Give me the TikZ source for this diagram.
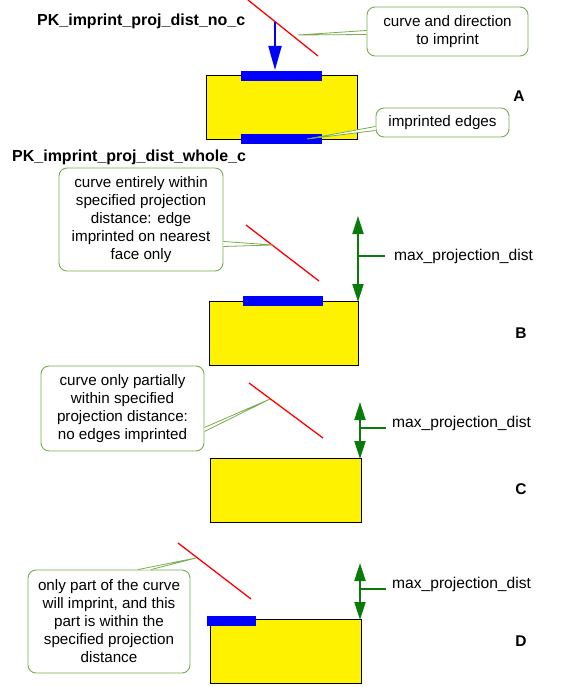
\documentclass[tikz,border=0pt]{standalone}
\usepackage{fontspec}
\setmainfont{Liberation Sans}
\usetikzlibrary{arrows.meta}
\definecolor{cgreen}{HTML}{77AD4B}
\definecolor{agreen}{HTML}{0A7A0A}
\begin{document}
\begin{tikzpicture}[x=1pt,y=-1pt,
  callout/.style={draw=cgreen,fill=white,rounded corners=8pt,line width=0.9pt,inner sep=0pt,align=center,font=\fontsize{15.2}{18}\selectfont},
  ptrfill/.style={fill=white},
  ptrline/.style={draw=cgreen,line width=0.8pt},
  yrect/.style={draw=black,fill=yellow,line width=0.8pt,inner sep=0pt,minimum width=151pt,minimum height=64pt},
  bar/.style={fill=blue,inner sep=0pt,minimum height=10pt},
  curve/.style={draw=red,line width=1.3pt},
  garrow/.style={draw=agreen,line width=2pt,{Triangle[length=18pt,width=11pt]}-{Triangle[length=18pt,width=11pt]}},
  gtick/.style={draw=agreen,line width=2pt},
  title/.style={font=\fontsize{16}{18}\selectfont\bfseries,anchor=west,inner sep=0pt},
  letter/.style={font=\fontsize{15.5}{18}\selectfont\bfseries,inner sep=0pt},
  maxlbl/.style={font=\fontsize{15.6}{18}\selectfont,anchor=west,inner sep=0pt}]
\useasboundingbox[fill=white] (0,0) rectangle (560,687);

% ---------------- A ----------------
\node[title] (tA) at (37,21) {PK\_imprint\_proj\_dist\_no\_c};
\node[yrect] (rA) at (281.5,107) {};
\node[bar,minimum width=81pt] (bA1) at (281.5,76) {};
\node[bar,minimum width=81pt] (bA2) at (281.5,139) {};
\coordinate (cA1) at (248,0);
\coordinate (cA2) at (318,56);
\draw[curve] (cA1) -- (cA2);
\coordinate (arA1) at (275,22);
\coordinate (arA2) at (275,70);
\draw[draw=blue,line width=2pt,-{Triangle[length=24pt,width=13pt]}] (arA1) -- (arA2);
\node[letter] (lA) at (519,96) {A};

\node[callout,minimum width=161pt,minimum height=49pt] (kA1) at (447.5,31.5) {curve and direction\\to imprint};
\coordinate (pA1) at (298,35);
\path[ptrfill] ([yshift=1pt]kA1.west) -- (pA1) -- ([yshift=-3pt]kA1.west) -- cycle;
\draw[ptrline] ([yshift=1pt]kA1.west) -- (pA1) -- ([yshift=-3pt]kA1.west);

\node[callout,minimum width=133pt,minimum height=29pt] (kA2) at (442.5,122.5) {imprinted edges};
\coordinate (pA2) at (307,139);
\path[ptrfill] ([yshift=-4pt]kA2.west) -- (pA2) -- ([yshift=-8pt]kA2.west) -- cycle;
\draw[ptrline] ([yshift=-4pt]kA2.west) -- (pA2) -- ([yshift=-8pt]kA2.west);

% ---------------- B ----------------
\node[title] (tB) at (12,157) {PK\_imprint\_proj\_dist\_whole\_c};
\node[yrect,minimum width=149pt] (rB) at (283.5,333.5) {};
\node[bar,minimum width=80pt] (bB) at (283,301) {};
\coordinate (cB1) at (246,225);
\coordinate (cB2) at (319,281);
\draw[curve] (cB1) -- (cB2);
\coordinate (gB1) at (358,216);
\coordinate (gB2) at (358,302);
\draw[garrow] (gB1) -- (gB2);
\coordinate (kB0) at (358,256);
\coordinate (kB1) at (385,256);
\draw[gtick] (kB0) -- (kB1);
\node[maxlbl] (mB) at (394,256) {max\_projection\_dist};
\node[letter] (lB) at (521,333) {B};

\node[callout,minimum width=164pt,minimum height=103pt] (kB) at (141,219.5) {curve entirely within\\specified projection\\distance: edge\\imprinted on nearest\\face only};
\coordinate (pB) at (273,245);
\path[ptrfill] ([yshift=-22pt]kB.east) -- (pB) -- ([yshift=-27pt]kB.east) -- cycle;
\draw[ptrline] ([yshift=-22pt]kB.east) -- (pB) -- ([yshift=-27pt]kB.east);

% ---------------- C ----------------
\node[yrect] (rC) at (285.5,490.5) {};
\coordinate (cC1) at (249,383);
\coordinate (cC2) at (323,438);
\draw[curve] (cC1) -- (cC2);
\coordinate (gC1) at (360,402);
\coordinate (gC2) at (360,459);
\draw[garrow] (gC1) -- (gC2);
\coordinate (kC0) at (360,428);
\coordinate (kC1) at (386,428);
\draw[gtick] (kC0) -- (kC1);
\node[maxlbl] (mC) at (392,423) {max\_projection\_dist};
\node[letter] (lC) at (521,489) {C};

\node[callout,minimum width=163pt,minimum height=85pt] (kC) at (122.5,408.5) {curve only partially\\within specified\\projection distance:\\no edges imprinted};
\coordinate (pC) at (270,399);
\path[ptrfill] ([yshift=-19pt]kC.east) -- (pC) -- ([yshift=-23pt]kC.east) -- cycle;
\draw[ptrline] ([yshift=-19pt]kC.east) -- (pC) -- ([yshift=-23pt]kC.east);

% ---------------- D ----------------
\node[yrect] (rD) at (285.5,651.5) {};
\node[bar,minimum width=49pt] (bD) at (231.5,621) {};
\coordinate (cD1) at (178,543);
\coordinate (cD2) at (251,599);
\draw[curve] (cD1) -- (cD2);
\coordinate (gD1) at (360,563);
\coordinate (gD2) at (360,620);
\draw[garrow] (gD1) -- (gD2);
\coordinate (kD0) at (360,589);
\coordinate (kD1) at (386,589);
\draw[gtick] (kD0) -- (kD1);
\node[maxlbl] (mD) at (392,584) {max\_projection\_dist};
\node[letter] (lD) at (521,641) {D};

\node[callout,minimum width=162pt,minimum height=103pt] (kD) at (109,621.5) {only part of the curve\\will imprint, and this\\part is within the\\specified projection\\distance};
\coordinate (pD) at (196,558);
\path[ptrfill] ([xshift=29pt]kD.north) -- (pD) -- ([xshift=42pt]kD.north) -- cycle;
\draw[ptrline] ([xshift=29pt]kD.north) -- (pD) -- ([xshift=42pt]kD.north);
\end{tikzpicture}
\end{document}
